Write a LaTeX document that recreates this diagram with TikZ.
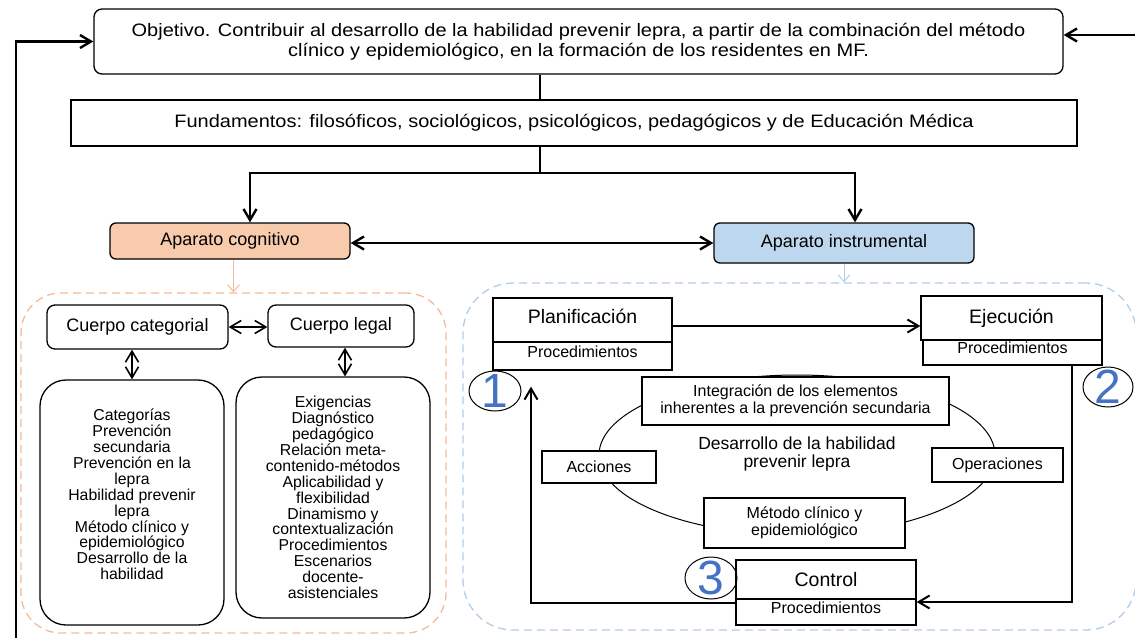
\documentclass[tikz,border=0pt]{standalone}
\usepackage{fontspec}
\setmainfont{Liberation Sans}
\newfontfamily\widefamily[FakeStretch=1.11]{Liberation Sans}
\usetikzlibrary{shapes,arrows.meta,calc,positioning}
\definecolor{peach}{HTML}{F8CBAD}
\definecolor{skyblue}{HTML}{BDD7EE}
\definecolor{peachline}{HTML}{F4BB96}
\definecolor{skyline}{HTML}{B2CDEA}
\definecolor{numblue}{HTML}{4472C4}
\tikzstyle{block} = [draw, line width=1.3pt, rectangle, fill=white,
    inner sep=0pt, align=center]
\tikzstyle{rblock} = [block, rounded corners=8pt]
\tikzstyle{apparatus} = [block, rounded corners=6pt]
\tikzstyle{listbox} = [block, rounded corners=26pt]
\tikzstyle{proc} = [block, text depth=9pt, font=\fontsize{16}{17}\selectfont]
\tikzstyle{frame} = [draw, dash pattern=on 8pt off 5pt, line width=1.3pt,
    rectangle, inner sep=0pt]
\tikzstyle{numcirc} = [draw, ellipse, line width=1pt, inner sep=0pt]
\tikzstyle{numtxt} = [text=numblue, inner sep=0pt,
    font=\fontsize{48}{48}\selectfont]
\tikzstyle{conn} = [line width=2.4pt, ->]
\tikzstyle{link} = [line width=1.6pt, <->]
\tikzstyle{faint} = [line width=1pt, ->, >={Straight Barb[length=7pt,width=12pt]}]
\tikzstyle{input} = [coordinate]
\newcommand{\topfont}{\widefamily\fontsize{18}{20}\selectfont}
\newcommand{\appfont}{\fontsize{18}{20}\selectfont}
\newcommand{\listfont}{\fontsize{15.8}{15.9}\selectfont}
\newcommand{\stagefont}{\fontsize{19.5}{20}\selectfont}
\newcommand{\smallfont}{\fontsize{16}{17}\selectfont}

\begin{document}
\begin{tikzpicture}[x=1pt, y=-1pt, >={Straight Barb[length=11pt,width=13pt]}]
  \useasboundingbox (0,0) rectangle (1135,638);

  % objective and foundations
  \node [rblock, minimum width=969, minimum height=65, font=\topfont] (obj) at (578.5,41.5)
    {Objetivo. Contribuir al desarrollo de la habilidad prevenir lepra, a partir de la combinación del método\\
     clínico y epidemiológico, en la formación de los residentes en MF.};
  \node [block, minimum width=1006, minimum height=46, font=\topfont] (fund) at (574,123)
    {Fundamentos: filosóficos, sociológicos, psicológicos, pedagógicos y de Educación Médica};
  \node [apparatus, fill=peach, minimum width=240, minimum height=36, font=\appfont] (cog) at (230,241)
    {Aparato cognitivo};
  \node [apparatus, fill=skyblue, minimum width=260, minimum height=40, font=\appfont] (ins) at (844,243)
    {Aparato instrumental};

  \node [input] (split) at (540,173) {};
  \node [input] (fbin) at (16,638) {};
  \node [input] (rin) at (1135,35) {};

  % dashed frames
  \node [frame, draw=peachline, rounded corners=40pt, minimum width=425, minimum height=340] (cogframe) at (233.5,463) {};
  \node [frame, draw=skyline, rounded corners=50pt, minimum width=673, minimum height=347] (insframe) at (799.5,456.5) {};

  % cognitive apparatus
  \node [rblock, minimum width=181, minimum height=44, font=\fontsize{18}{20}\selectfont] (cat) at (137.5,327) {Cuerpo categorial};
  \node [rblock, minimum width=146, minimum height=42, font=\fontsize{18}{20}\selectfont] (leg) at (341,326) {Cuerpo legal};
  \node [listbox, minimum width=184, minimum height=245] (catlist) at (132,502.5) {};
  \node [align=center, font=\listfont] (cattext) at (132,494.5)
    {Categorías\\Prevención\\secundaria\\Prevención en la\\lepra\\Habilidad prevenir\\lepra\\
     Método clínico y\\epidemiológico\\Desarrollo de la\\habilidad};
  \node [listbox, minimum width=194, minimum height=241, font=\listfont] (leglist) at (333,497.5)
    {Exigencias\\Diagnóstico\\pedagógico\\Relación meta-\\contenido-métodos\\Aplicabilidad y\\flexibilidad\\
     Dinamismo y\\contextualización\\Procedimientos\\Escenarios\\docente-\\asistenciales};

  % instrumental apparatus
  \node [draw, ellipse, line width=1pt, inner sep=0pt, minimum width=396, minimum height=160] (cycle) at (797,455) {};
  \node [align=center, font=\fontsize{17.5}{18}\selectfont] (goal) at (797,454) {Desarrollo de la habilidad\\prevenir lepra};
  \node [block, minimum width=307, minimum height=48, font=\smallfont] (integ) at (795.5,401)
    {Integración de los elementos\\inherentes a la prevención secundaria};
  \node [block, minimum width=114, minimum height=32, font=\smallfont] (acc) at (599,467) {Acciones};
  \node [block, minimum width=131, minimum height=34, font=\smallfont] (ope) at (997.5,465) {Operaciones};
  \node [block, minimum width=201, minimum height=50, font=\smallfont] (met) at (804.5,523) {Método clínico y\\epidemiológico};

  \node [block, minimum width=179, minimum height=44, font=\stagefont, text depth=8pt] (plan) at (582.5,320) {Planificación};
  \node [proc, minimum width=179, minimum height=28] (planp) at (582.5,356) {Procedimientos};
  \node [block, minimum width=181, minimum height=44, font=\stagefont] (eje) at (1011.5,318) {Ejecución};
  \node [proc, minimum width=179, minimum height=25] (ejep) at (1012.5,352.5) {Procedimientos};
  \node [block, minimum width=180, minimum height=39, font=\stagefont] (ctl) at (826,579.5) {Control};
  \node [proc, minimum width=180, minimum height=26] (ctlp) at (826,612) {Procedimientos};

  \node [numcirc, minimum width=52, minimum height=40] (c1) at (495,391) {};
  \node [numtxt] at (c1) {1};
  \node [numcirc, minimum width=50, minimum height=40] (c2) at (1108,387) {};
  \node [numtxt] at (c2) {2};
  \node [numcirc, minimum width=52, minimum height=42] (c3) at (711,578) {};
  \node [numtxt] at (c3) {3};

  % connectors
  \draw [conn] (fbin) |- (obj.west);
  \draw [conn] (rin) -- (rin -| obj.east);
  \draw [line width=2.4pt] (obj.south -| split) -- (fund.north -| split);
  \draw [line width=2.4pt] (fund.south -| split) -- (split);
  \draw [conn] (split) -| ([xshift=20pt]cog.north);
  \draw [conn] (split) -| ([xshift=11pt]ins.north);
  \draw [conn, <->] (cog.east |- ins.west) -- (ins.west);
  \draw [faint, draw=peachline] (cog.south -| cogframe.north) -- (cogframe.north);
  \draw [faint, draw=skyline] (ins.south) -- (ins.south |- insframe.north);

  \draw [link] (cat.east) -- (cat.east -| leg.west);
  \draw [link] (catlist.north |- cat.south) -- (catlist.north);
  \draw [link] ([xshift=4pt]leg.south) -- ([xshift=4pt]leg.south |- leglist.north);

  \draw [conn, line width=2pt] ([yshift=-6pt]plan.east) -- ([yshift=-6pt]plan.east -| eje.west);
  \draw [conn, line width=2pt] ([xshift=59pt]ejep.south) |- ([yshift=10pt]ctlp.east);
  \draw [conn, line width=2pt] ([yshift=9pt]ctlp.west) -| ([xshift=-51.5pt,yshift=-16pt]planp.south);
\end{tikzpicture}
\end{document}
